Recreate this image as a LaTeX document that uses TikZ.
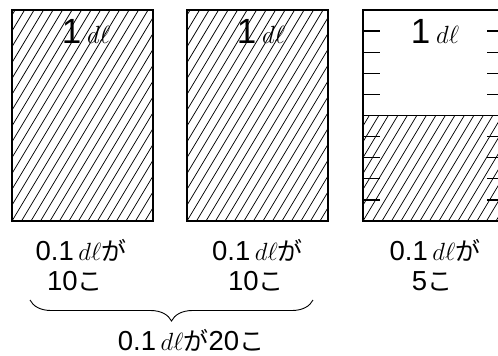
\documentclass[tikz,border=0pt]{standalone}
\usepackage{fontspec}
\setmainfont{Liberation Sans}
\newfontfamily\jpfont{Noto Sans CJK JP}
\usetikzlibrary{decorations.pathreplacing}
\newcommand\dl[1]{{\fontsize{#1}{#1}\selectfont$d\ell$}}
\newcommand\kana[1]{{\jpfont\fontsize{25}{25}\selectfont #1}}
\tikzset{
  boxline/.style={line width=1.8pt},
  hatchline/.style={line width=0.75pt},
  tickline/.style={line width=1.3pt},
  lab/.style={anchor=base, inner sep=0pt, font=\fontsize{27.5}{30}\selectfont},
  toplab/.style={anchor=base, inner sep=0pt, font=\fontsize{35}{36}\selectfont},
  bracestyle/.style={decorate, decoration={brace, amplitude=21pt}, line width=0.9pt},
}
\newcommand\hatchbox[4]{%
  \begin{scope}
    \clip (#1,#2) rectangle (#3,#4);
    \foreach \i [evaluate=\i as \xx using #1+\i*9.5] in {-15,...,16} {
      \draw[hatchline] (\xx,#4) -- ++(127,-211.7);
    }
  \end{scope}}
\begin{document}
\begin{tikzpicture}[x=1pt,y=-1pt]
\useasboundingbox (0,0) rectangle (498,356);
\clip (0,0) rectangle (498,356);
% box 1
\hatchbox{12}{10}{153}{221}
\draw[boxline] (12,10) rectangle (153,221);
% box 2
\hatchbox{187}{10}{328}{221}
\draw[boxline] (187,10) rectangle (328,221);
% box 3
\hatchbox{363}{115.5}{504}{221}
\draw[boxline] (363,115.5) -- (504,115.5);
\draw[boxline] (363,10) rectangle (504,221);
\foreach \k in {1,2,3,4,6,7,8,9} {
  \draw[tickline] (363,10+21.1*\k) -- (380,10+21.1*\k);
  \draw[tickline] (487,10+21.1*\k) -- (504,10+21.1*\k);
}
% top labels
\node[toplab] (t1) at (86,43) {1\,\dl{34}};
\node[toplab] (t2) at (261,43) {1\,\dl{34}};
\node[toplab] (t3) at (435,43) {1\,\dl{34}};
% bottom labels
\node[lab] (a1) at (81,260) {0.1\,\dl{24}\kana{が}};
\node[lab] (b1) at (75,290) {10\kana{こ}};
\node[lab] (a2) at (257.5,260) {0.1\,\dl{24}\kana{が}};
\node[lab] (b2) at (256,290) {10\kana{こ}};
\node[lab] (a3) at (435,260) {0.1\,\dl{24}\kana{が}};
\node[lab] (b3) at (432,290) {5\kana{こ}};
% brace
\coordinate (br1) at (313,300);
\coordinate (br2) at (30,300);
\draw[bracestyle] (br1) -- (br2);
\node[lab] (sum) at (191,350) {0.1\,\dl{24}\kana{が}20\kana{こ}};
\end{tikzpicture}
\end{document}
